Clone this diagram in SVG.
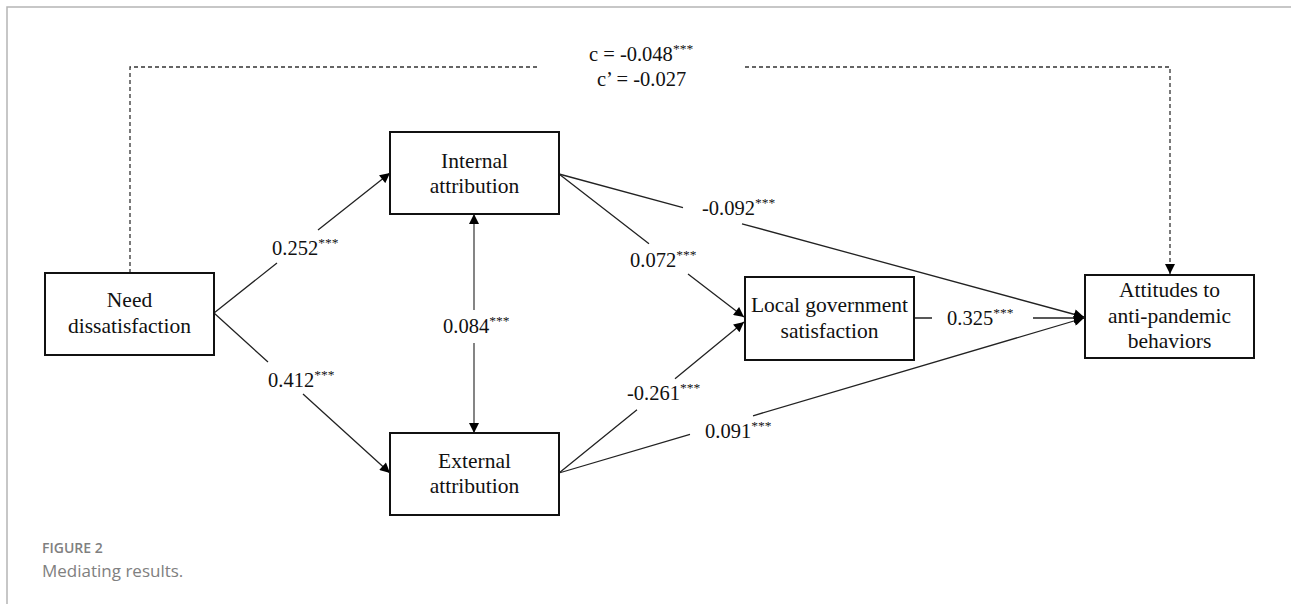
<svg xmlns="http://www.w3.org/2000/svg" width="1291" height="604" viewBox="0 0 1291 604">
<style>
.box{fill:#fff;stroke:#111;stroke-width:2}
.nt{font-family:'Liberation Serif','DejaVu Serif',serif;font-size:21.5px;fill:#111;text-anchor:middle}
.lb{font-family:'Liberation Serif','DejaVu Serif',serif;font-size:20.5px;fill:#111}
.st{font-size:13.5px}
.ln{fill:none;stroke:#222;stroke-width:1.3}
.dash{fill:none;stroke:#333;stroke-width:1.3;stroke-dasharray:4 3}
.cap1{font-family:'Open Sans','Noto Sans',sans-serif;font-size:14px;font-weight:600;fill:#808080}
.cap2{font-family:'Open Sans','Noto Sans',sans-serif;font-size:17px;fill:#808080}
</style>
<defs>
<marker id="ah" viewBox="0 0 10 10" refX="10" refY="5" markerWidth="11" markerHeight="10" markerUnits="userSpaceOnUse" orient="auto-start-reverse">
<path d="M0,0 L10,5 L0,10 z" fill="#000"/>
</marker>
</defs>
<rect width="1291" height="604" fill="#fff"/>
<path d="M7,604 V7 H1291" fill="none" stroke="#b5b5b5" stroke-width="1.5"/>

<g id="connectors">
<path class="dash" d="M130,273 V67 H540 M745,67 H1170 V274" marker-end="url(#ah)"/>
<path class="ln" d="M214,313 L277,263 M318,230 L390,173" marker-end="url(#ah)"/>
<path class="ln" d="M214,313 L268,362 M303,394 L390,473" marker-end="url(#ah)"/>
<path class="ln" style="stroke:#444" d="M474,214 V310 M474,343 V433" marker-start="url(#ah)" marker-end="url(#ah)"/>
<path class="ln" d="M559,174 L649,243.7 M688,274 L744,317" marker-end="url(#ah)"/>
<path class="ln" d="M559,174 L683,207.7 M742,223.8 L1084,317" marker-end="url(#ah)"/>
<path class="ln" d="M559,473 L637,409.7 M675,378.8 L744,322" marker-end="url(#ah)"/>
<path class="ln" d="M559,473 L690,434.4 M753,415.8 L1084,318" marker-end="url(#ah)"/>
<path class="ln" d="M914,318 H932 M1033,318 H1084" marker-end="url(#ah)"/>
<text class="lb" x="589" y="61">c = -0.048<tspan class="st" dy="-8">***</tspan></text>
<text class="lb" x="597" y="86">c’ = -0.027</text>
<text class="lb" x="272" y="255">0.252<tspan class="st" dy="-8">***</tspan></text>
<text class="lb" x="268" y="387">0.412<tspan class="st" dy="-8">***</tspan></text>
<text class="lb" x="443" y="333">0.084<tspan class="st" dy="-8">***</tspan></text>
<text class="lb" x="630" y="267">0.072<tspan class="st" dy="-8">***</tspan></text>
<text class="lb" x="702" y="215">-0.092<tspan class="st" dy="-8">***</tspan></text>
<text class="lb" x="627" y="400">-0.261<tspan class="st" dy="-8">***</tspan></text>
<text class="lb" x="705" y="438">0.091<tspan class="st" dy="-8">***</tspan></text>
<text class="lb" x="947" y="325">0.325<tspan class="st" dy="-8">***</tspan></text>
</g>

<g id="need">
<rect class="box" x="45" y="273" width="169" height="82"/>
<text class="nt" x="129.5" y="307">Need</text>
<text class="nt" x="129.5" y="333">dissatisfaction</text>
</g>
<g id="internal">
<rect class="box" x="390" y="132" width="169" height="82"/>
<text class="nt" x="474.5" y="168">Internal</text>
<text class="nt" x="474.5" y="193">attribution</text>
</g>
<g id="external">
<rect class="box" x="390" y="433" width="169" height="82"/>
<text class="nt" x="474.5" y="468">External</text>
<text class="nt" x="474.5" y="493">attribution</text>
</g>
<g id="local">
<rect class="box" x="745" y="277" width="169" height="83"/>
<text class="nt" x="829.5" y="312">Local government</text>
<text class="nt" x="829.5" y="338">satisfaction</text>
</g>
<g id="attitudes">
<rect class="box" x="1085" y="275" width="169" height="83"/>
<text class="nt" x="1169.5" y="297">Attitudes to</text>
<text class="nt" x="1169.5" y="323">anti-pandemic</text>
<text class="nt" x="1169.5" y="348">behaviors</text>
</g>

<g id="caption">
<text class="cap1" x="42" y="553">FIGURE 2</text>
<text class="cap2" x="42" y="577">Mediating results.</text>
</g>
</svg>
